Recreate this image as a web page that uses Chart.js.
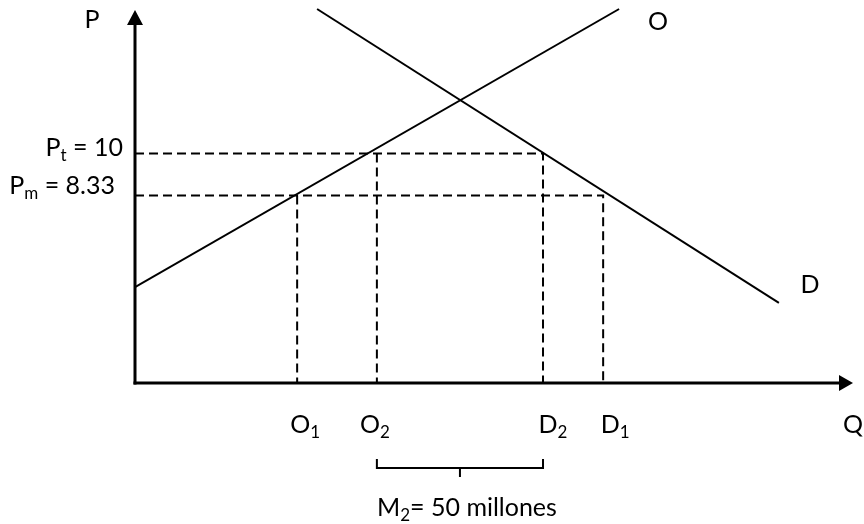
<!DOCTYPE html>
<html>
<head>
<meta charset="utf-8">
<script src="https://cdn.jsdelivr.net/npm/chart.js@4.4.1/dist/chart.umd.min.js"></script>
<style>
  html, body { margin: 0; padding: 0; background: #fff; }
  #wrap { width: 864px; height: 524px; position: relative; }
</style>
</head>
<body>
<div id="wrap"><canvas id="c"></canvas></div>
<script>
// ---- data (quantities in millions, prices in price units) ----
const quantityNames = ['O', 'O', 'D', 'D'];
const quantitySubs = ['1', '2', '2', '1'];
const quantityValues = [48.8, 72.8, 122.8, 140.9];   // O1, O2, D2, D1
const priceNames = ['P', 'P'];
const priceSubs = ['t', 'm'];
const priceValues = [10, 8.33];                        // Pt, Pm
const priceTexts = [' = 10', ' = 8.33'];
const supplyQ = [0, 145.7];
const supplyP = [4.68, 15.76];
const demandQ = [54.8, 193.8];
const demandP = [15.76, 4.05];
const importLabel = ['M', '2', '= 50 millones'];

// ---- layout ----
const Q_MIN = 0, Q_MAX = 217, P_MIN = 0.86, P_MAX = 15.8;
const FONT = 'Lato, "Open Sans", sans-serif';
const FS = 25;

const line = (qs, ps) => qs.map((q, i) => ({ x: q, y: ps[i] }));
const dashed = { borderColor: '#000', borderWidth: 2, borderDash: [9, 5], showLine: true, pointRadius: 0, fill: false };

const datasets = [
  { data: line(supplyQ, supplyP), borderColor: '#000', borderWidth: 2, showLine: true, pointRadius: 0, fill: false },
  { data: line(demandQ, demandP), borderColor: '#000', borderWidth: 2, showLine: true, pointRadius: 0, fill: false },
  Object.assign({ data: [{ x: Q_MIN, y: priceValues[0] }, { x: quantityValues[2], y: priceValues[0] }, { x: quantityValues[2], y: P_MIN }] }, dashed),
  Object.assign({ data: [{ x: quantityValues[1], y: priceValues[0] }, { x: quantityValues[1], y: P_MIN }] }, dashed),
  Object.assign({ data: [{ x: Q_MIN, y: priceValues[1] }, { x: quantityValues[3], y: priceValues[1] }, { x: quantityValues[3], y: P_MIN }] }, dashed),
  Object.assign({ data: [{ x: quantityValues[0], y: priceValues[1] }, { x: quantityValues[0], y: P_MIN }] }, dashed)
];

function subText(ctx, main, sub, rest, x, y, align, size) {
  const mf = size + 'px ' + FONT, sf = Math.round(size * 0.68) + 'px ' + FONT;
  ctx.font = mf; const wm = ctx.measureText(main).width; const wr = rest ? ctx.measureText(rest).width : 0;
  ctx.font = sf; const ws = ctx.measureText(sub).width;
  const total = wm + ws + wr;
  let sx = x;
  if (align === 'center') sx = x - total / 2;
  else if (align === 'right') sx = x - total;
  ctx.textAlign = 'left'; ctx.textBaseline = 'alphabetic';
  ctx.font = mf; ctx.fillText(main, sx, y);
  ctx.font = sf; ctx.fillText(sub, sx + wm, y + 5);
  if (rest) { ctx.font = mf; ctx.fillText(rest, sx + wm + ws, y); }
}

const qLabelDx = [8, -2, 10, 12];
const pLabelRight = [-12, -20];
const pLabelDy = [2, -2];

const decor = {
  id: 'decor',
  afterDraw(chart) {
    const ctx = chart.ctx, xs = chart.scales.x, ys = chart.scales.y, ca = chart.chartArea;
    const x0 = xs.getPixelForValue(Q_MIN), y0 = ys.getPixelForValue(P_MIN);
    ctx.save();
    ctx.fillStyle = '#000'; ctx.strokeStyle = '#000';
    ctx.lineWidth = 3;
    ctx.beginPath(); ctx.moveTo(x0, y0 + 1.5); ctx.lineTo(x0, ca.top + 16); ctx.stroke();
    ctx.beginPath(); ctx.moveTo(x0 - 1.5, y0); ctx.lineTo(ca.right - 16, y0); ctx.stroke();
    ctx.beginPath(); ctx.moveTo(x0, ca.top + 2); ctx.lineTo(x0 - 8, ca.top + 17); ctx.lineTo(x0 + 8, ca.top + 17); ctx.closePath(); ctx.fill();
    ctx.beginPath(); ctx.moveTo(ca.right - 3, y0); ctx.lineTo(ca.right - 17, y0 - 8); ctx.lineTo(ca.right - 17, y0 + 8); ctx.closePath(); ctx.fill();

    ctx.font = FS + 'px ' + FONT; ctx.textAlign = 'center'; ctx.textBaseline = 'alphabetic';
    ctx.fillText('P', x0 - 43, ca.top + 20);
    ctx.fillText('Q', ca.right - 3, y0 + 50);
    const sx = xs.getPixelForValue(supplyQ[1]), sy = ys.getPixelForValue(supplyP[1]);
    ctx.fillText('O', sx + 39, sy + 21);
    const dx = xs.getPixelForValue(demandQ[1]), dy = ys.getPixelForValue(demandP[1]);
    ctx.fillText('D', dx + 31, dy - 10);

    quantityValues.forEach((q, i) => {
      subText(ctx, quantityNames[i], quantitySubs[i], '', xs.getPixelForValue(q) + qLabelDx[i], y0 + 50, 'center', FS);
    });
    priceValues.forEach((p, i) => {
      subText(ctx, priceNames[i], priceSubs[i], priceTexts[i], x0 + pLabelRight[i], ys.getPixelForValue(p) + pLabelDy[i], 'right', FS);
    });

    const bx1 = xs.getPixelForValue(quantityValues[1]), bx2 = xs.getPixelForValue(quantityValues[2]);
    const by = y0 + 85;
    ctx.lineWidth = 2;
    ctx.beginPath();
    ctx.moveTo(bx1, by - 9); ctx.lineTo(bx1, by); ctx.lineTo(bx2, by); ctx.lineTo(bx2, by - 9);
    ctx.stroke();
    const mid = (bx1 + bx2) / 2;
    ctx.beginPath(); ctx.moveTo(mid, by); ctx.lineTo(mid, by + 9); ctx.stroke();
    subText(ctx, importLabel[0], importLabel[1], importLabel[2], mid + 7, y0 + 133, 'center', FS);
    ctx.restore();
  }
};

new Chart(document.getElementById('c'), {
  type: 'scatter',
  data: { datasets },
  options: {
    responsive: true,
    maintainAspectRatio: false,
    animation: false,
    layout: { padding: { left: 135, right: 8, top: 8, bottom: 141 } },
    plugins: { legend: { display: false }, tooltip: { enabled: false } },
    scales: {
      x: { type: 'linear', min: Q_MIN, max: Q_MAX, display: false },
      y: { type: 'linear', min: P_MIN, max: P_MAX, display: false }
    }
  },
  plugins: [decor]
});
</script>
</body>
</html>
